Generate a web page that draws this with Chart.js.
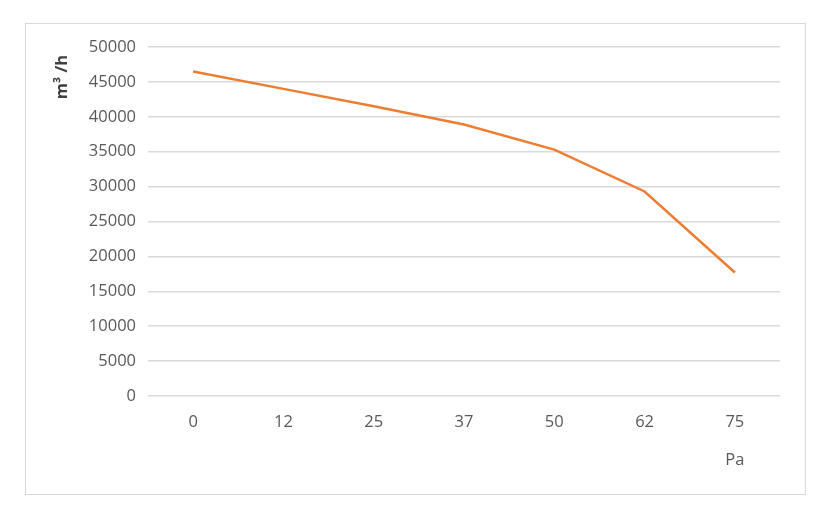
<!DOCTYPE html>
<html>
<head>
<meta charset="utf-8">
<script src="https://cdn.jsdelivr.net/npm/chart.js@4/dist/chart.umd.min.js"></script>
<style>
  body { margin: 0; background: #fff; }
  #frame { position: absolute; left: 25px; top: 23px; width: 779px; height: 470px; border: 1px solid #d9d9d9; }
  #wrap { position: absolute; left: 0; top: 0; width: 830px; height: 527px; }
</style>
</head>
<body>
<div id="frame"></div>
<div id="wrap"><canvas id="myChart"></canvas></div>
<script>
// data
const pressure = ['0', '12', '25', '37', '50', '62', '75'];
const airflow = [46500, 44000, 41500, 38900, 35300, 29300, 17700];
const yTicks = [0, 5000, 10000, 15000, 20000, 25000, 30000, 35000, 40000, 45000, 50000];

const textColor = '#595959';
const tickFont = { family: 'Open Sans', size: 16.5 };

// axis titles drawn by hand so they sit where the original has them
const axisTitles = {
  id: 'axisTitles',
  afterDraw(chart) {
    const c = chart.ctx;
    const x = chart.scales.x;
    c.save();
    c.fillStyle = textColor;
    c.font = '16.5px "Open Sans"';
    c.textAlign = 'center';
    c.textBaseline = 'middle';
    c.fillText('Pa', x.getPixelForValue(pressure.length - 1), 460);

    c.translate(62, 77);
    c.rotate(-Math.PI / 2);
    c.fillStyle = '#404040';
    c.font = 'bold 16.5px "Open Sans"';
    c.fillText('m\u00B3 /h', 0, 0);
    c.restore();
  }
};

var ctx = document.getElementById('myChart').getContext('2d');
var chart = new Chart(ctx, {
  type: 'line',
  data: {
    labels: pressure,
    datasets: [{
      label: 'm3/h',
      data: airflow,
      borderColor: '#ED7D31',
      borderWidth: 2.5,
      pointRadius: 0,
      tension: 0,
      fill: false
    }]
  },
  options: {
    responsive: true,
    maintainAspectRatio: false,
    animation: false,
    layout: { padding: { left: 0, top: 47, right: 50, bottom: 0 } },
    plugins: {
      legend: { display: false },
      tooltip: { enabled: false }
    },
    scales: {
      x: {
        offset: true,
        grid: { display: false, drawTicks: false },
        border: { display: false },
        ticks: { color: textColor, font: tickFont, padding: 16, maxRotation: 0 },
        afterFit(scale) { scale.height = 131; }
      },
      y: {
        min: 0,
        max: 50000,
        afterBuildTicks(scale) { scale.ticks = yTicks.map(v => ({ value: v })); },
        grid: { color: '#d9d9d9', lineWidth: 1.5, drawTicks: false },
        border: { display: false },
        ticks: { color: textColor, font: tickFont, padding: 12, callback: v => String(v) },
        afterFit(scale) { scale.width = 148; }
      }
    }
  },
  plugins: [axisTitles]
});
</script>
</body>
</html>
